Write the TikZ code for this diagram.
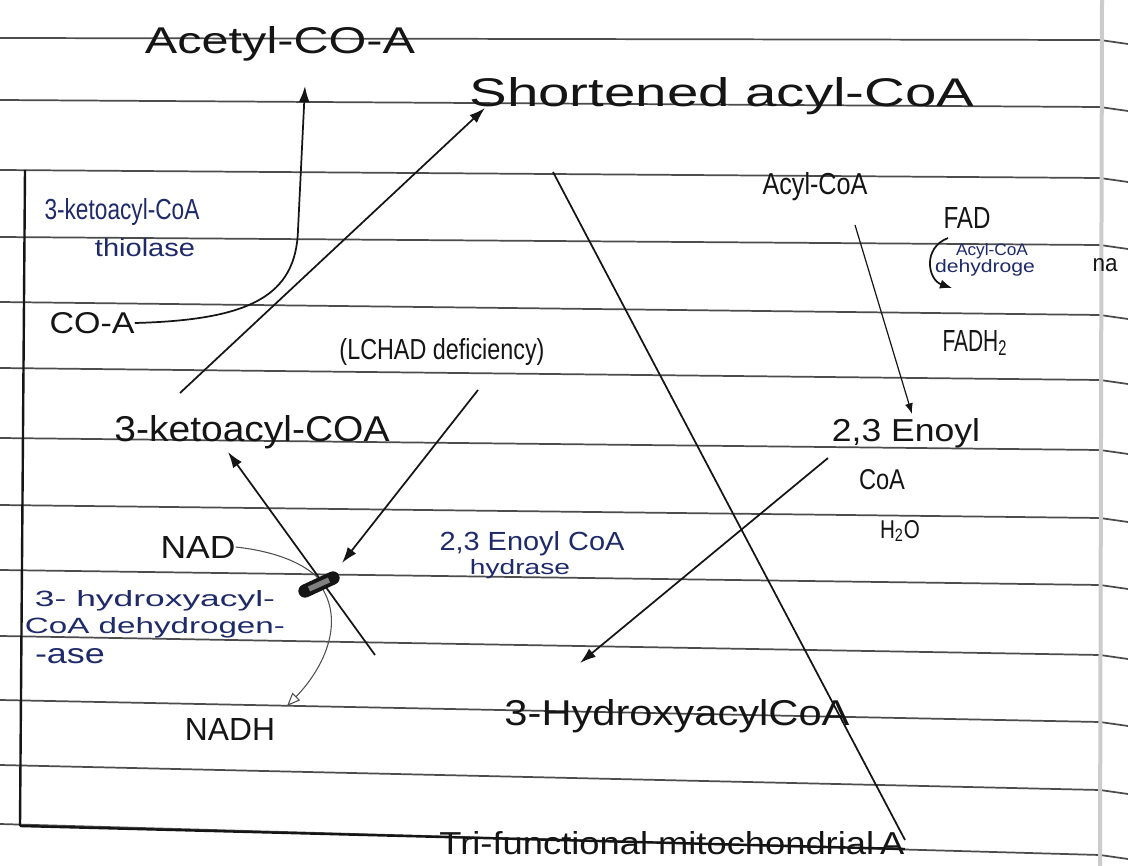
\documentclass[tikz,border=0pt]{standalone}
\usepackage{fontspec}
\setmainfont{Liberation Sans}
\usepackage{graphicx}
\usetikzlibrary{arrows.meta}
\newdimen\pxu \pxu=0.75pt
\newcommand{\hw}[3]{\resizebox{#1\pxu}{#2\pxu}{#3}}
\definecolor{ink}{HTML}{151515}
\definecolor{blueink}{HTML}{1F2A6B}
\begin{document}
\begin{tikzpicture}[x=0.75pt,y=-0.75pt,
  txt/.style={inner sep=0pt, text=ink},
  btxt/.style={inner sep=0pt, text=blueink},
  rule/.style={black!70, line width=1.3pt},
  pen/.style={ink, line width=1.3pt},
  thinpen/.style={ink!75, line width=0.8pt},
  arr/.style={pen, -{Latex[length=12pt,width=8pt]}},
  smallarr/.style={ink, line width=0.9pt, -{Latex[length=8pt,width=6pt]}},
]
\useasboundingbox (0,0) rectangle (1128,866);
\fill[white] (0,0) rectangle (1128,866);

% ruled notebook lines
\foreach \a/\b in {38/40,100/107,170/178,237/245,302/315,368/380,438/450,505/518,570/585,636/655,700/722,765/790,824/855} {
  \draw[rule] (0,\a) -- (1100,\b) -- (1128,\b+4);
}
\draw[black!20, line width=3pt] (1102,0) -- (1100,866);

% box and diagonal
\draw[pen, line width=1.8pt] (25,170) -- (20,826);
\draw[pen, line width=1.8pt] (20,826) -- (905,849);
\draw[pen] (553,172) -- (905,840);

% texts
\node[txt] (acetyl) at (280,44) {\hw{270}{27}{Acetyl-CO-A}};
\node[txt] (short) at (722,96) {\hw{505}{29}{Shortened acyl-CoA}};
\node[txt] (acyl) at (815,187) {\hw{105}{22}{Acyl-CoA}};
\node[txt] (fad) at (967,218) {\hw{47}{21}{FAD}};
\node[btxt] (acd1) at (992,251) {\hw{72}{12}{Acyl-CoA}};
\node[btxt] (acd2) at (985,268) {\hw{100}{13}{dehydroge}};
\node[txt] (na) at (1105,265) {\hw{25}{13}{na}};
\node[txt] (fadh) at (975,343) {\hw{65}{21}{FADH\textsubscript{2}}};
\node[txt] (enoyl) at (906,433) {\hw{148}{23}{2,3 Enoyl}};
\node[txt] (enoylcoa) at (882,480) {\hw{46}{20}{CoA}};
\node[txt] (water) at (900,531) {\hw{40}{18}{H\textsubscript{2}O}};
\node[btxt] (hydr1) at (532,544) {\hw{185}{19}{2,3 Enoyl CoA}};
\node[btxt] (hydr2) at (520,569) {\hw{100}{15}{hydrase}};
\node[txt] (hacoa) at (677,716) {\hw{345}{26}{3-HydroxyacylCoA}};
\node[txt] (trif) at (672,843) {\hw{465}{23}{Tri-functional mitochondrial\,A}};
\node[btxt] (thio1) at (122,212) {\hw{155}{21}{3-ketoacyl-CoA}};
\node[btxt] (thio2) at (145,248) {\hw{100}{18}{thiolase}};
\node[txt] (coa) at (92,323) {\hw{85}{21}{CO-A}};
\node[txt] (lchad) at (442,352) {\hw{205}{21}{(LCHAD deficiency)}};
\node[txt] (keto) at (252,432) {\hw{275}{26}{3-ketoacyl-COA}};
\node[txt] (nad) at (198,547) {\hw{75}{22}{NAD}};
\node[btxt] (hdh1) at (155,601) {\hw{240}{16}{3- hydroxyacyl-}};
\node[btxt] (hdh2) at (155,628) {\hw{260}{16}{CoA dehydrogen-}};
\node[btxt] (hdh3) at (70,656) {\hw{70}{15}{-ase}};
\node[txt] (nadh) at (230,729) {\hw{90}{22}{NADH}};

% helper coordinates
\coordinate (acetylTip) at (305,86);
\coordinate (ketoStart) at (180,393);
\coordinate (shortTip) at (485,108);
\coordinate (acylStart) at (855,225);
\coordinate (enoylTip) at (912,414);
\coordinate (fadStart) at (948,238);
\coordinate (fadhTip) at (952,288);
\coordinate (enoylStart) at (828,458);
\coordinate (hacoaTip) at (580,663);
\coordinate (lchadStart) at (478,390);
\coordinate (markA) at (305,591);
\coordinate (markB) at (333,578);
\coordinate (ketoLow) at (375,655);
\coordinate (ketoTip) at (228,452);
\coordinate (nadhTip) at (287,706);

% connectors
\draw[arr] (coa.east) .. controls (250,320) and (296,296) .. (298,230) -- (acetylTip);
\draw[arr] (ketoStart) -- (shortTip);
\draw[smallarr] (acylStart) -- (enoylTip);
\draw[pen, -{Latex[length=9pt,width=7pt]}] (fadStart) .. controls (922,248) and (928,280) .. (fadhTip);
\draw[arr] (enoylStart) -- (hacoaTip);
\draw[arr] (lchadStart) -- (342,563);
\draw[arr] (ketoLow) -- (ketoTip);
\draw[thinpen] (nad.east) .. controls (280,552) and (305,565) .. (318,578);
\draw[thinpen, -{Triangle[open,length=10pt,width=8pt]}] (322,588) .. controls (345,625) and (322,670) .. (nadhTip);
% pencil-like marker
\draw[ink, line width=10pt, line cap=round] (markA) -- (markB);
\draw[gray, line width=4pt] (309,589) -- (329,580);
\end{tikzpicture}
\end{document}
